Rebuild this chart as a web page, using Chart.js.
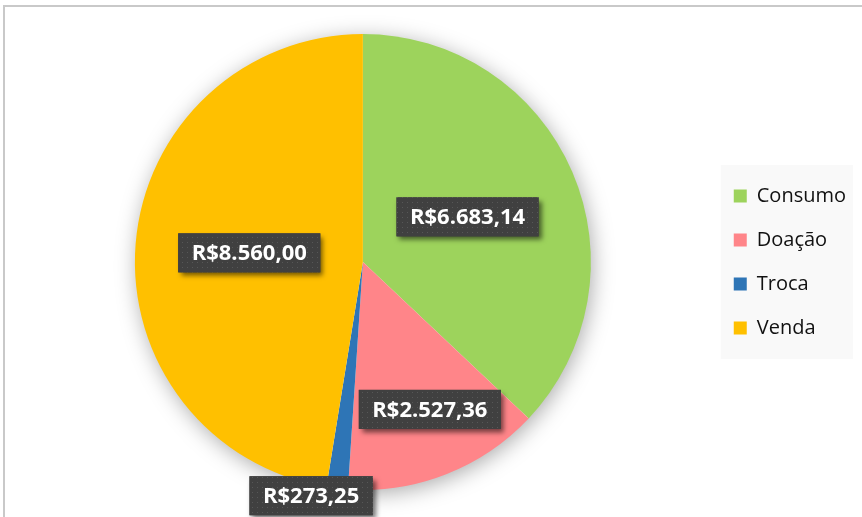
<!DOCTYPE html>
<html>
<head>
<meta charset="utf-8">
<script src="https://cdn.jsdelivr.net/npm/chart.js@4.4.1/dist/chart.umd.min.js"></script>
<style>
  html, body { margin: 0; padding: 0; background: #fff; }
  #wrap { position: relative; width: 862px; height: 517px; overflow: hidden; }
  #frame { position: absolute; left: 3px; top: 5px; width: 900px; height: 600px;
           border-top: 2px solid #c9c9c9; border-left: 2px solid #c9c9c9; }
  canvas { position: absolute; left: 0; top: 0; }
</style>
</head>
<body>
<div id="wrap">
  <div id="frame"></div>
  <canvas id="grafico" width="862" height="517"></canvas>
</div>
<script>
// dados do gráfico
const categorias = ['Consumo', 'Doação', 'Troca', 'Venda'];
const valores = [6683.14, 2527.36, 273.25, 8560.00];
const cores = ['#9dd35c', '#ff8589', '#2e75b6', '#ffc000'];

// posição dos rótulos (fração do raio e desvio em graus)
const rotuloRaio = [0.5, 0.71, 1.05, 0.5];
const rotuloDesvio = [0, -3, 6, 0];

function formatarReal(v) {
    return 'R$' + v.toLocaleString('pt-BR', { minimumFractionDigits: 2, maximumFractionDigits: 2 });
}

// padrão pontilhado da caixa dos rótulos
function criarPadrao(ctx) {
    const c = document.createElement('canvas');
    c.width = 5; c.height = 5;
    const p = c.getContext('2d');
    p.fillStyle = '#404040';
    p.fillRect(0, 0, 5, 5);
    p.fillStyle = '#575757';
    p.fillRect(2, 2, 1, 1);
    return ctx.createPattern(c, 'repeat');
}

// sombra da pizza
const sombraPizza = {
    id: 'sombraPizza',
    beforeDatasetsDraw(chart) {
        const arc = chart.getDatasetMeta(0).data[0];
        if (!arc) return;
        const ctx = chart.ctx;
        ctx.save();
        ctx.shadowColor = 'rgba(0,0,0,0.35)';
        ctx.shadowBlur = 22;
        ctx.shadowOffsetX = 2;
        ctx.shadowOffsetY = 4;
        ctx.fillStyle = '#ffffff';
        ctx.beginPath();
        ctx.arc(arc.x, arc.y, arc.outerRadius - 1, 0, Math.PI * 2);
        ctx.fill();
        ctx.restore();
    }
};

// fundo da legenda
const fundoLegenda = {
    id: 'fundoLegenda',
    beforeDraw(chart) {
        const boxes = chart.legend.legendHitBoxes;
        if (!boxes || !boxes.length) return;
        const ctx = chart.ctx;
        const first = boxes[0], last = boxes[boxes.length - 1];
        const x0 = first.left - 13;
        const y0 = first.top - 21;
        const x1 = 853;
        const y1 = last.top + last.height + 21;
        ctx.save();
        ctx.fillStyle = '#f9f9f9';
        ctx.fillRect(x0, y0, x1 - x0, y1 - y0);
        ctx.restore();
    }
};

// rótulos de dados
const rotulos = {
    id: 'rotulos',
    afterDatasetsDraw(chart) {
        const ctx = chart.ctx;
        const meta = chart.getDatasetMeta(0);
        const padrao = criarPadrao(ctx);
        ctx.save();
        ctx.font = 'bold 22px "Open Sans"';
        meta.data.forEach((arc, i) => {
            const meio = (arc.startAngle + arc.endAngle) / 2 + rotuloDesvio[i] * Math.PI / 180;
            const r = arc.outerRadius * rotuloRaio[i];
            const cx = arc.x + Math.cos(meio) * r;
            const cy = arc.y + Math.sin(meio) * r;
            const texto = formatarReal(valores[i]);
            const w = ctx.measureText(texto).width + 27;
            const h = 39;
            ctx.save();
            ctx.shadowColor = 'rgba(0,0,0,0.55)';
            ctx.shadowBlur = 5;
            ctx.shadowOffsetX = 3;
            ctx.shadowOffsetY = 4;
            ctx.fillStyle = '#404040';
            ctx.fillRect(cx - w / 2, cy - h / 2, w, h);
            ctx.restore();
            ctx.fillStyle = padrao;
            ctx.fillRect(cx - w / 2, cy - h / 2, w, h);
            ctx.fillStyle = '#ffffff';
            ctx.textAlign = 'center';
            ctx.textBaseline = 'middle';
            ctx.fillText(texto, cx, cy + 1);
        });
        ctx.restore();
    }
};

const ctx = document.getElementById('grafico').getContext('2d');
const grafico = new Chart(ctx, {
    type: 'pie',
    data: {
        labels: categorias,
        datasets: [{
            data: valores,
            backgroundColor: cores,
            borderWidth: 0
        }]
    },
    options: {
        responsive: false,
        animation: false,
        layout: {
            padding: { left: 16, right: 6, top: 34, bottom: 27 }
        },
        plugins: {
            legend: {
                position: 'right',
                labels: {
                    boxWidth: 13,
                    boxHeight: 13,
                    padding: 24,
                    color: '#111111',
                    font: { family: '"Open Sans"', size: 20 }
                }
            },
            tooltip: { enabled: false }
        }
    },
    plugins: [fundoLegenda, sombraPizza, rotulos]
});
</script>
</body>
</html>
